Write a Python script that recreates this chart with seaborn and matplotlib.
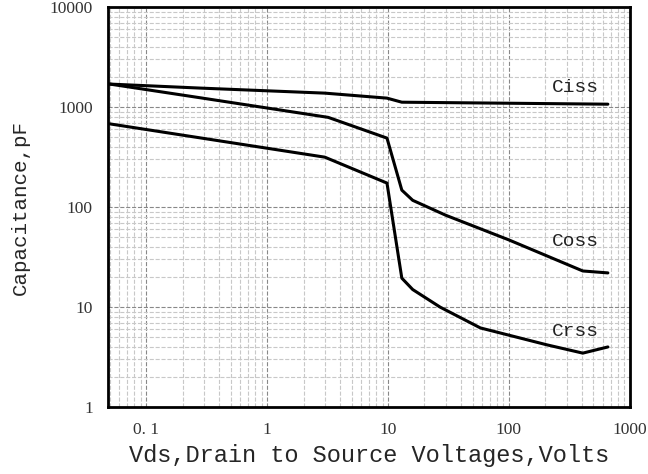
import numpy as np
import pandas as pd
import matplotlib.pyplot as plt
import seaborn as sns
from matplotlib.ticker import LogLocator, NullFormatter

# Capacitance curves
vds_ciss = [0.05, 0.28, 3.0, 9.8, 13, 658]
ciss = [1700, 1550, 1380, 1230, 1120, 1070]

vds_coss = [0.05, 0.28, 3.2, 9.8, 13, 16, 30, 100, 408, 658]
coss = [1700, 1240, 790, 490, 148, 117, 83, 47, 23, 22]

vds_crss = [0.05, 3.0, 9.8, 13, 16, 27, 58, 206, 408, 658]
crss = [680, 316, 174, 19.5, 15, 10, 6.2, 4.2, 3.47, 4.0]

x_ticks = [0.1, 1, 10, 100, 1000]
x_labels = ['0. 1', '1', '10', '100', '1000']
y_ticks = [1, 10, 100, 1000, 10000]
y_labels = ['1', '10', '100', '1000', '10000']

sns.set_style("white")
plt.rcParams['font.family'] = ['Liberation Serif', 'DejaVu Serif']

fig, ax = plt.subplots(figsize=(6.48, 4.74), dpi=100)
fig.subplots_adjust(left=0.167, right=0.972, top=0.985, bottom=0.141)

for vx, vy in [(vds_ciss, ciss), (vds_coss, coss), (vds_crss, crss)]:
    df = pd.DataFrame({'vds': vx, 'cap': vy})
    sns.lineplot(data=df, x='vds', y='cap', ax=ax, color='black',
                 linewidth=2.2, estimator=None, sort=False)

ax.set_xscale('log')
ax.set_yscale('log')
ax.set_xlim(0.0485, 1000)
ax.set_ylim(1, 10000)

ax.set_xticks(x_ticks)
ax.set_xticklabels(x_labels)
ax.set_yticks(y_ticks)
ax.set_yticklabels(y_labels)
ax.xaxis.set_minor_locator(LogLocator(base=10, subs=np.arange(2, 10)))
ax.yaxis.set_minor_locator(LogLocator(base=10, subs=np.arange(2, 10)))
ax.xaxis.set_minor_formatter(NullFormatter())
ax.yaxis.set_minor_formatter(NullFormatter())

ax.grid(True, which='major', linestyle='--', color='#888888', linewidth=0.8)
ax.grid(True, which='minor', linestyle='--', color='#c8c8c8', linewidth=0.8)

ax.tick_params(which='major', direction='out', length=5, width=2,
               labelsize=12.5, colors='black', pad=6)
ax.tick_params(which='minor', direction='out', length=3, width=2)
ax.tick_params(axis='both', labelcolor='#333333')

for s in ax.spines.values():
    s.set_visible(True)
    s.set_color('black')
    s.set_linewidth(2)

ax.set_xlabel('Vds,Drain to Source Voltages,Volts', family='Liberation Mono',
              fontsize=17, labelpad=4)
ax.set_ylabel('Capacitance,pF', family='Liberation Mono', fontsize=15,
              labelpad=14)

lab_font = dict(family='Liberation Mono', fontsize=14, color='#222222',
                ha='left', va='center')
ax.text(227, 1580, 'Ciss', **lab_font)
ax.text(227, 45, 'Coss', **lab_font)
ax.text(227, 5.75, 'Crss', **lab_font)

plt.savefig('out.png', dpi=100)
